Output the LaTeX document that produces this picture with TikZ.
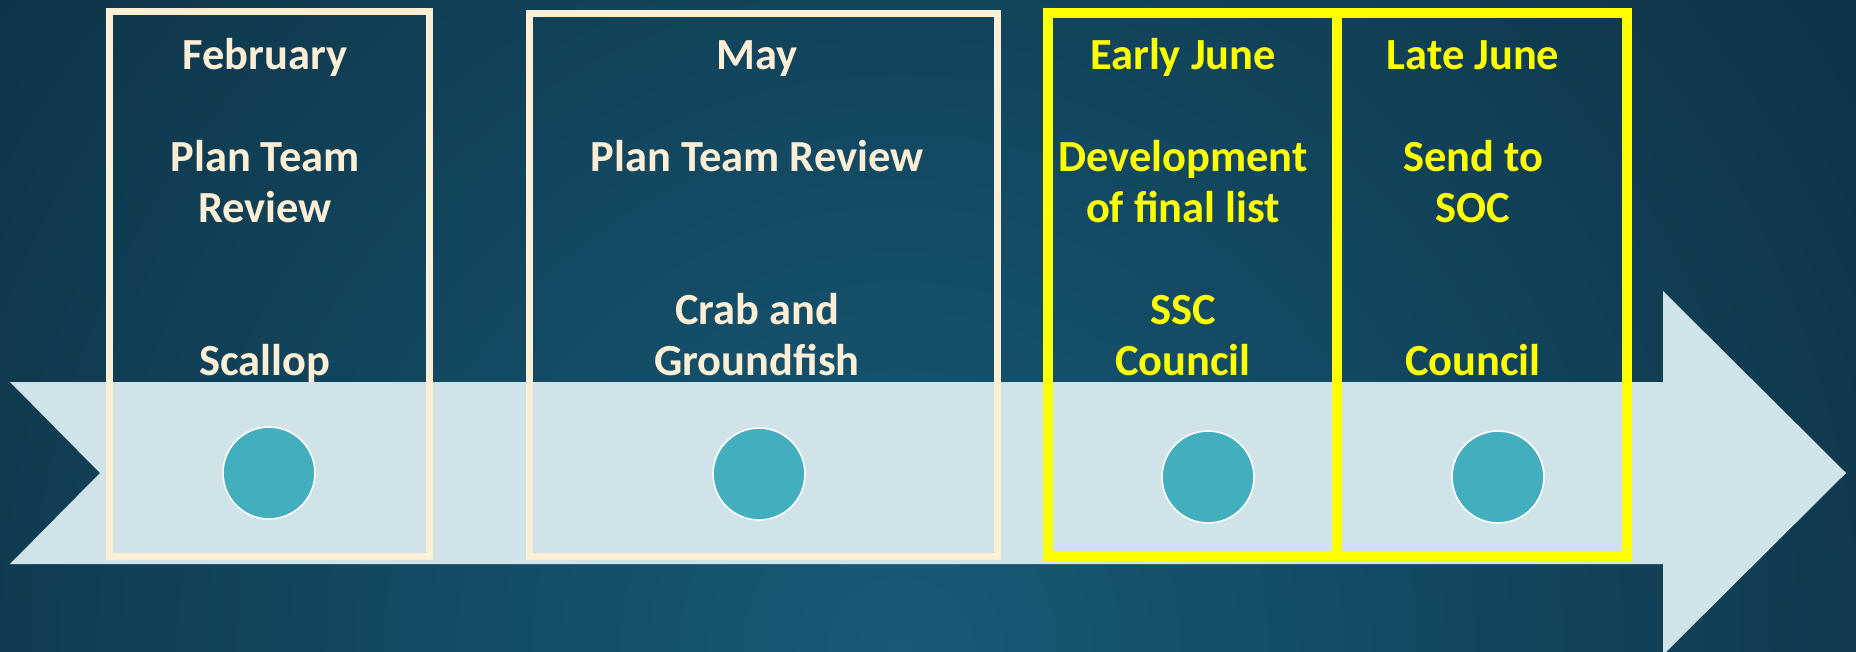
\documentclass[tikz,border=0pt]{standalone}
\usepackage{fontspec}
\setmainfont{Carlito}
\usetikzlibrary{positioning}
\definecolor{bgin}{HTML}{185A77}
\definecolor{bgout}{HTML}{0D3347}
\definecolor{band}{HTML}{D0E3E9}
\definecolor{cream}{HTML}{FDEFD5}
\definecolor{dotfill}{HTML}{42AEBE}
\definecolor{yell}{HTML}{FFFF00}

\begin{document}
\begin{tikzpicture}[x=0.02cm, y=-0.02cm,
    frame/.style={draw=cream, line width=0.14cm, inner sep=0pt},
    yframe/.style={draw=yell, line width=0.2cm, inner sep=0pt, minimum height=10.87cm},
    dot/.style={circle, fill=dotfill, draw=white, line width=0.9pt, minimum size=1.84cm, inner sep=0pt},
    lbl/.style={text=cream, font=\bfseries\fontsize{25.3pt}{29.1pt}\selectfont, align=center, anchor=base, inner sep=0pt},
    ylbl/.style={lbl, text=yell}]
    \useasboundingbox (0,0) rectangle (1856,652);
    \begin{scope}
        \clip (0,0) rectangle (1856,652);
        \shade[inner color=bgin, outer color=bgout] (-250,-500) rectangle (2050,1800);
    \end{scope}
    \fill[band] (10,382) -- (1663,382) -- (1663,291) -- (1846,473) -- (1663,655)
        -- (1663,564) -- (10,564) -- (100,473) -- cycle;

    \node[dot] (dfeb) at (269, 473) {};
    \node[dot] (dmay) at (759, 474) {};
    \node[dot] (dejune) at (1208, 477) {};
    \node[dot] (dljune) at (1498, 477) {};

    \node[frame, minimum width=6.42cm, minimum height=10.91cm] (feb) at (269.5, 284.25) {};
    \node[frame, minimum width=9.38cm, minimum height=10.88cm] (may) at (763.5, 285) {};
    \node[yframe, minimum width=5.78cm] (ejune) at (1192.5, 284.25) {};
    \node[yframe, minimum width=5.80cm] (ljune) at (1482, 284.25) {};

    \node[lbl] (tfeb) at (265, 375.8) {February\\[29.1pt]Plan Team\\Review\\[58.2pt]Scallop};
    \node[lbl] (tmay) at (757, 375.8) {May\\[29.1pt]Plan Team Review\\[58.2pt]Crab and\\Groundfish};
    \node[ylbl] (tejune) at (1183, 375.8) {Early June\\[29.1pt]Development\\of final list\\[29.1pt]SSC\\Council};
    \node[ylbl] (tljune) at (1473, 375.8) {Late June\\[29.1pt]Send to\\SOC\\[58.2pt]Council};
\end{tikzpicture}
\end{document}
